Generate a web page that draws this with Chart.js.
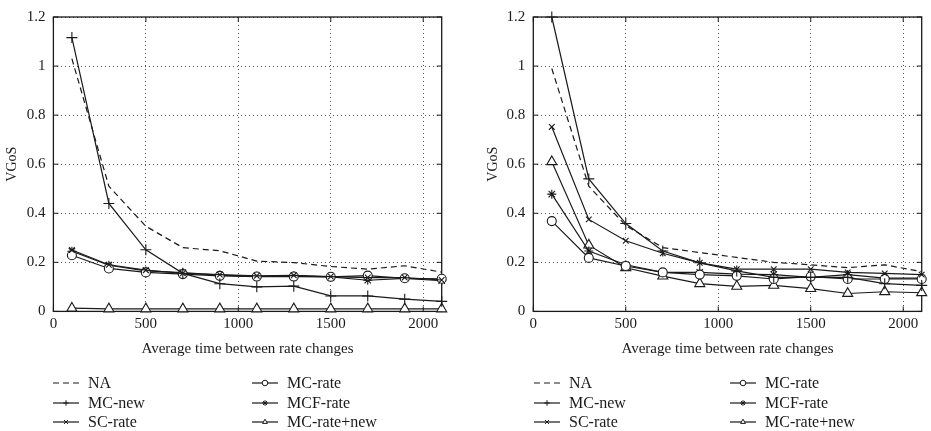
<!DOCTYPE html>
<html>
<head>
<meta charset="utf-8">
<script src="https://cdn.jsdelivr.net/npm/chart.js@4/dist/chart.umd.min.js"></script>
<style>
  html, body { margin: 0; padding: 0; background: #fff; }
  #wrap { position: relative; width: 931px; height: 431px; overflow: hidden; }
  .box { position: absolute; top: 0; height: 431px; }
  #b1 { left: 0; width: 466px; }
  #b2 { left: 466px; width: 465px; }
</style>
</head>
<body>
<div id="wrap">
  <div class="box" id="b1"><canvas id="c1"></canvas></div>
  <div class="box" id="b2"><canvas id="c2"></canvas></div>
</div>
<script>
// ---- Data ----
const xValues = [100, 300, 500, 700, 900, 1100, 1300, 1500, 1700, 1900, 2100];
const seriesNames = ['NA', 'MC-new', 'SC-rate', 'MC-rate', 'MCF-rate', 'MC-rate+new'];
const xTitle = 'Average time between rate changes';
const yTitle = 'VGoS';

// left panel
const leftNA        = [1.03, 0.51, 0.347, 0.26, 0.247, 0.205, 0.199, 0.183, 0.172, 0.186, 0.16];
const leftMCnew     = [1.116, 0.44, 0.251, 0.155, 0.113, 0.10, 0.103, 0.063, 0.063, 0.05, 0.041];
const leftSCrate    = [0.25, 0.19, 0.168, 0.155, 0.15, 0.145, 0.147, 0.142, 0.138, 0.138, 0.128];
const leftMCrate    = [0.229, 0.175, 0.159, 0.152, 0.145, 0.142, 0.142, 0.141, 0.146, 0.135, 0.133];
const leftMCFrate   = [0.245, 0.188, 0.165, 0.158, 0.148, 0.143, 0.145, 0.141, 0.127, 0.135, 0.125];
const leftMCratenew = [0.013, 0.01, 0.01, 0.01, 0.01, 0.01, 0.01, 0.01, 0.01, 0.01, 0.01];

// right panel
const rightNA        = [0.99, 0.51, 0.35, 0.26, 0.24, 0.22, 0.20, 0.19, 0.178, 0.19, 0.162];
const rightMCnew     = [1.2, 0.54, 0.358, 0.246, 0.198, 0.165, 0.139, 0.139, 0.139, 0.113, 0.106];
const rightSCrate    = [0.752, 0.375, 0.288, 0.237, 0.198, 0.172, 0.172, 0.172, 0.159, 0.155, 0.15];
const rightMCrate    = [0.368, 0.218, 0.185, 0.159, 0.15, 0.145, 0.132, 0.142, 0.132, 0.132, 0.132];
const rightMCFrate   = [0.478, 0.246, 0.19, 0.159, 0.159, 0.152, 0.15, 0.139, 0.15, 0.136, 0.136];
const rightMCratenew = [0.61, 0.27, 0.178, 0.144, 0.113, 0.102, 0.106, 0.093, 0.073, 0.08, 0.076];

const xTicks = [0, 500, 1000, 1500, 2000];
const yTicks = [0, 0.2, 0.4, 0.6, 0.8, 1, 1.2];

// ---- Styles ----
const FONT = "'Liberation Serif', 'DejaVu Serif', serif";
const INK = '#1a1a1a';
const styles = [
  { pointStyle: false, radius: 0, dash: [6, 4] },
  { pointStyle: 'cross', radius: 5.5, dash: [] },
  { pointStyle: 'crossRot', radius: 4, dash: [] },
  { pointStyle: 'circle', radius: 4.5, dash: [] },
  { pointStyle: 'star', radius: 4.5, dash: [] },
  { pointStyle: 'triangle', radius: 5.8, dash: [] }
];

function makeDatasets(arrs) {
  return arrs.map((vals, i) => ({
    label: seriesNames[i],
    data: vals.map((v, k) => ({ x: xValues[k], y: v })),
    borderColor: INK,
    backgroundColor: '#ffffff',
    borderWidth: 1.2,
    borderDash: styles[i].dash,
    pointStyle: styles[i].pointStyle,
    pointRadius: styles[i].radius,
    pointBorderColor: INK,
    pointBackgroundColor: '#ffffff',
    pointBorderWidth: 1.1,
    tension: 0,
    fill: false,
    clip: false
  }));
}

const framePlugin = {
  id: 'frame',
  beforeDatasetsDraw(chart) {
    const { ctx, chartArea: a, scales } = chart;
    ctx.save();
    ctx.strokeStyle = INK;
    ctx.lineWidth = 1;
    ctx.setLineDash([]);
    ctx.beginPath();
    scales.x.ticks.forEach(t => {
      const px = scales.x.getPixelForValue(t.value);
      ctx.moveTo(px, a.bottom); ctx.lineTo(px, a.bottom - 5);
      ctx.moveTo(px, a.top); ctx.lineTo(px, a.top + 5);
    });
    scales.y.ticks.forEach(t => {
      const py = scales.y.getPixelForValue(t.value);
      ctx.moveTo(a.left, py); ctx.lineTo(a.left + 5, py);
      ctx.moveTo(a.right, py); ctx.lineTo(a.right - 5, py);
    });
    ctx.stroke();
    ctx.lineWidth = 1.3;
    ctx.strokeRect(a.left, a.top, a.right - a.left, a.bottom - a.top);
    ctx.restore();
  }
};

const legendPlugin = {
  id: 'customLegend',
  afterDraw(chart, args, opts) {
    const { ctx } = chart;
    ctx.save();
    chart.data.datasets.forEach((ds, i) => {
      const col = i < 3 ? 0 : 1;
      const row = i % 3;
      const x0 = opts.cols[col];
      const y = opts.rows[row];
      ctx.strokeStyle = INK;
      ctx.lineWidth = 1.2;
      ctx.setLineDash(ds.borderDash || []);
      ctx.beginPath();
      ctx.moveTo(x0, y); ctx.lineTo(x0 + 26, y);
      ctx.stroke();
      ctx.setLineDash([]);
      if (ds.pointStyle) {
        const o = { pointStyle: ds.pointStyle, radius: 2.8, borderWidth: 1, rotation: 0 };
        ctx.fillStyle = ds.pointStyle === 'star' ? INK : '#ffffff';
        ctx.strokeStyle = INK;
        ctx.lineWidth = 1;
        Chart.helpers.drawPoint(ctx, o, x0 + 13, y);
      }
      ctx.fillStyle = INK;
      ctx.font = '16px ' + FONT;
      ctx.textBaseline = 'middle';
      ctx.textAlign = 'left';
      ctx.fillText(ds.label, x0 + 35, y + 1);
    });
    ctx.restore();
  }
};

function makeChart(id, arrs, padLeft, padRight, yWidth, legendCols) {
  return new Chart(document.getElementById(id), {
    type: 'line',
    data: { datasets: makeDatasets(arrs) },
    plugins: [framePlugin, legendPlugin],
    options: {
      responsive: true,
      maintainAspectRatio: false,
      animation: false,
      layout: { padding: { left: padLeft, right: padRight, top: 8, bottom: 72.6 } },
      plugins: {
        legend: { display: false },
        tooltip: { enabled: false },
        customLegend: { cols: legendCols, rows: [383, 403, 422] }
      },
      scales: {
        x: {
          type: 'linear',
          min: 0, max: 2100,
          afterBuildTicks: s => { s.ticks = xTicks.map(v => ({ value: v })); },
          afterFit: s => { s.height = 47; },
          ticks: { color: INK, font: { family: FONT, size: 15 }, padding: 4, maxRotation: 0,
                   callback: v => String(v) },
          grid: { color: '#555', lineWidth: 1, drawTicks: false },
          border: { display: false, dash: [1, 3] },
          title: { display: true, text: xTitle, color: INK, font: { family: FONT, size: 15 }, padding: { top: 0, bottom: 0 } }
        },
        y: {
          type: 'linear',
          min: 0, max: 1.2,
          afterBuildTicks: s => { s.ticks = yTicks.map(v => ({ value: v })); },
          afterFit: s => { s.width = yWidth; },
          ticks: { color: INK, font: { family: FONT, size: 15 }, padding: 8,
                   callback: v => String(Math.round(v * 10) / 10) },
          grid: { color: '#555', lineWidth: 1, drawTicks: false },
          border: { display: false, dash: [1, 3] },
          title: { display: true, text: yTitle, color: INK, font: { family: FONT, size: 14 }, padding: { top: 4, bottom: 0 } }
        }
      }
    }
  });
}

makeChart('c1', [leftNA, leftMCnew, leftSCrate, leftMCrate, leftMCFrate, leftMCratenew],
          0, 24.3, 53.4, [53, 252]);
makeChart('c2', [rightNA, rightMCnew, rightSCrate, rightMCrate, rightMCFrate, rightMCratenew],
          14.6, 9.3, 52.7, [68, 264]);
</script>
</body>
</html>
